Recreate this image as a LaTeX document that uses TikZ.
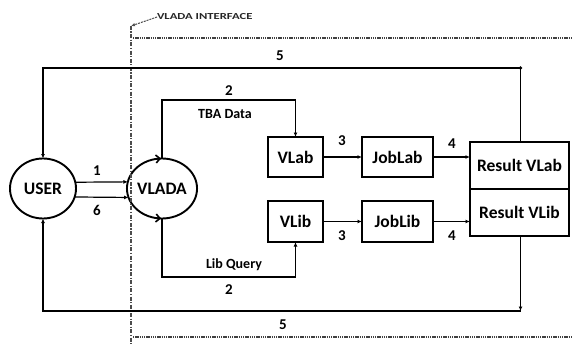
\documentclass[tikz,border=0pt]{standalone}
\usepackage{fontspec}
\setmainfont{Carlito}
\usetikzlibrary{shapes.geometric,arrows.meta,calc}
\begin{document}
\begin{tikzpicture}[x=1pt,y=-1pt,
  font=\fontsize{17.5}{19}\selectfont\bfseries,
  every node/.style={inner sep=0pt,outer sep=0pt},
  bx/.style={draw,line width=1.6pt,rectangle},
  el/.style={draw,line width=1.9pt,ellipse,minimum width=66pt,minimum height=60pt},
  conn/.style={line width=1.2pt,-{Latex[length=4.5pt,width=4pt]}},
  iface/.style={black!70,line width=1.3pt,dash pattern=on 4pt off 1.5pt on 1.2pt off 1.5pt},
  dotln/.style={black!75,line width=1.3pt,dash pattern=on 1.3pt off 0.9pt},
  lbl/.style={font=\fontsize{15}{17}\selectfont\bfseries},
  sub/.style={font=\fontsize{14}{16}\selectfont\bfseries},
  barb/.style={line width=1.6pt,-{Straight Barb[length=4pt,width=8pt,line width=1.6pt]}}]
\useasboundingbox (0,0) rectangle (573,345);
% nodes
\node[el] (user) at (43,188.5) {USER};
\node[el] (vlada) at (162,188.5) {VLADA};
\node[bx,minimum width=55pt,minimum height=40pt] (vlab) at (295.5,157) {VLab};
\node[bx,minimum width=55pt,minimum height=41pt] (vlib) at (295.5,221.5) {VLib};
\node[bx,minimum width=71pt,minimum height=40pt] (joblab) at (397.5,157) {JobLab};
\node[bx,minimum width=71pt,minimum height=41pt] (joblib) at (397.5,221.5) {JobLib};
\node[bx,minimum width=99pt,minimum height=47pt] (rvlab) at (519.5,165.5) {Result VLab};
\node[bx,minimum width=99pt,minimum height=47pt] (rvlib) at (519.5,212.5) {Result VLib};
% interface
\coordinate (itop) at (131,26);
\coordinate (ibot) at (131,345);
\node[anchor=west,font=\fontsize{11.5}{12}\selectfont\bfseries,text=black!85,xscale=1.1,yscale=0.8] (ilabel) at (157,17) {VLADA INTERFACE};
\draw[iface] (itop) -- (ibot);
\draw[black!70,line width=1pt,dash pattern=on 2pt off 1pt,-{Latex[length=4pt,width=3.5pt]}] (ilabel.west) -- (itop);
\coordinate (dt1) at (133,38);
\coordinate (dt2) at (573,38);
\coordinate (db1) at (133,337);
\coordinate (db2) at (573,337);
\draw[dotln] (dt1) -- (dt2);
\draw[dotln] (db1) -- (db2);
% 5 paths
\coordinate (c5t) at (520.5,68);
\coordinate (c5b) at (520.5,311);
\draw[conn] (rvlab.north -| c5t) -- (c5t) -| (user.north);
\fill (c5t) circle (1.8pt);
\draw[conn] (rvlib.south -| c5b) -- (c5b);
\draw[conn] (c5b) -| (user.south);
\node[lbl] (l5t) at (280,56) {5};
\node[lbl] (l5b) at (283,325) {5};
% 1 and 6
\draw[conn] (user.11) -- (vlada.169);
\draw[conn] (user.-15) -- (vlada.-165);
\node[lbl] (l1) at (97,171) {1};
\node[lbl] (l6) at (97,210) {6};
% TBA data / Lib query
\coordinate (tba) at (229,100);
\coordinate (lq) at (229,277);
\draw[conn] (vlada.north) |- (tba) -| (vlab.north);
\draw[conn] (vlada.south) |- (lq) -| (vlib.south);
\node[lbl] (l2t) at (229,91) {2};
\node[sub] (tbal) at (225,114) {TBA Data};
\node[sub] (lql) at (234,265) {Lib Query};
\node[lbl] (l2b) at (229,290) {2};
% VLADA outline marks
\draw[barb] (vlada.103) -- ($(vlada.north)+(-1,0)$);
\draw[barb] (vlada.-103) -- ($(vlada.south)+(-1,0)$);
% 3 and 4
\draw[conn] (vlab) -- (joblab);
\draw[conn] (joblab) -- (joblab -| rvlab.west);
\draw[conn] (vlib) -- (joblib);
\draw[conn] (joblib) -- (joblib -| rvlib.west);
\node[lbl] (l3a) at (342,141) {3};
\node[lbl] (l4a) at (452,144) {4};
\node[lbl] (l3b) at (342,236) {3};
\node[lbl] (l4b) at (452,236) {4};
\end{tikzpicture}
\end{document}
